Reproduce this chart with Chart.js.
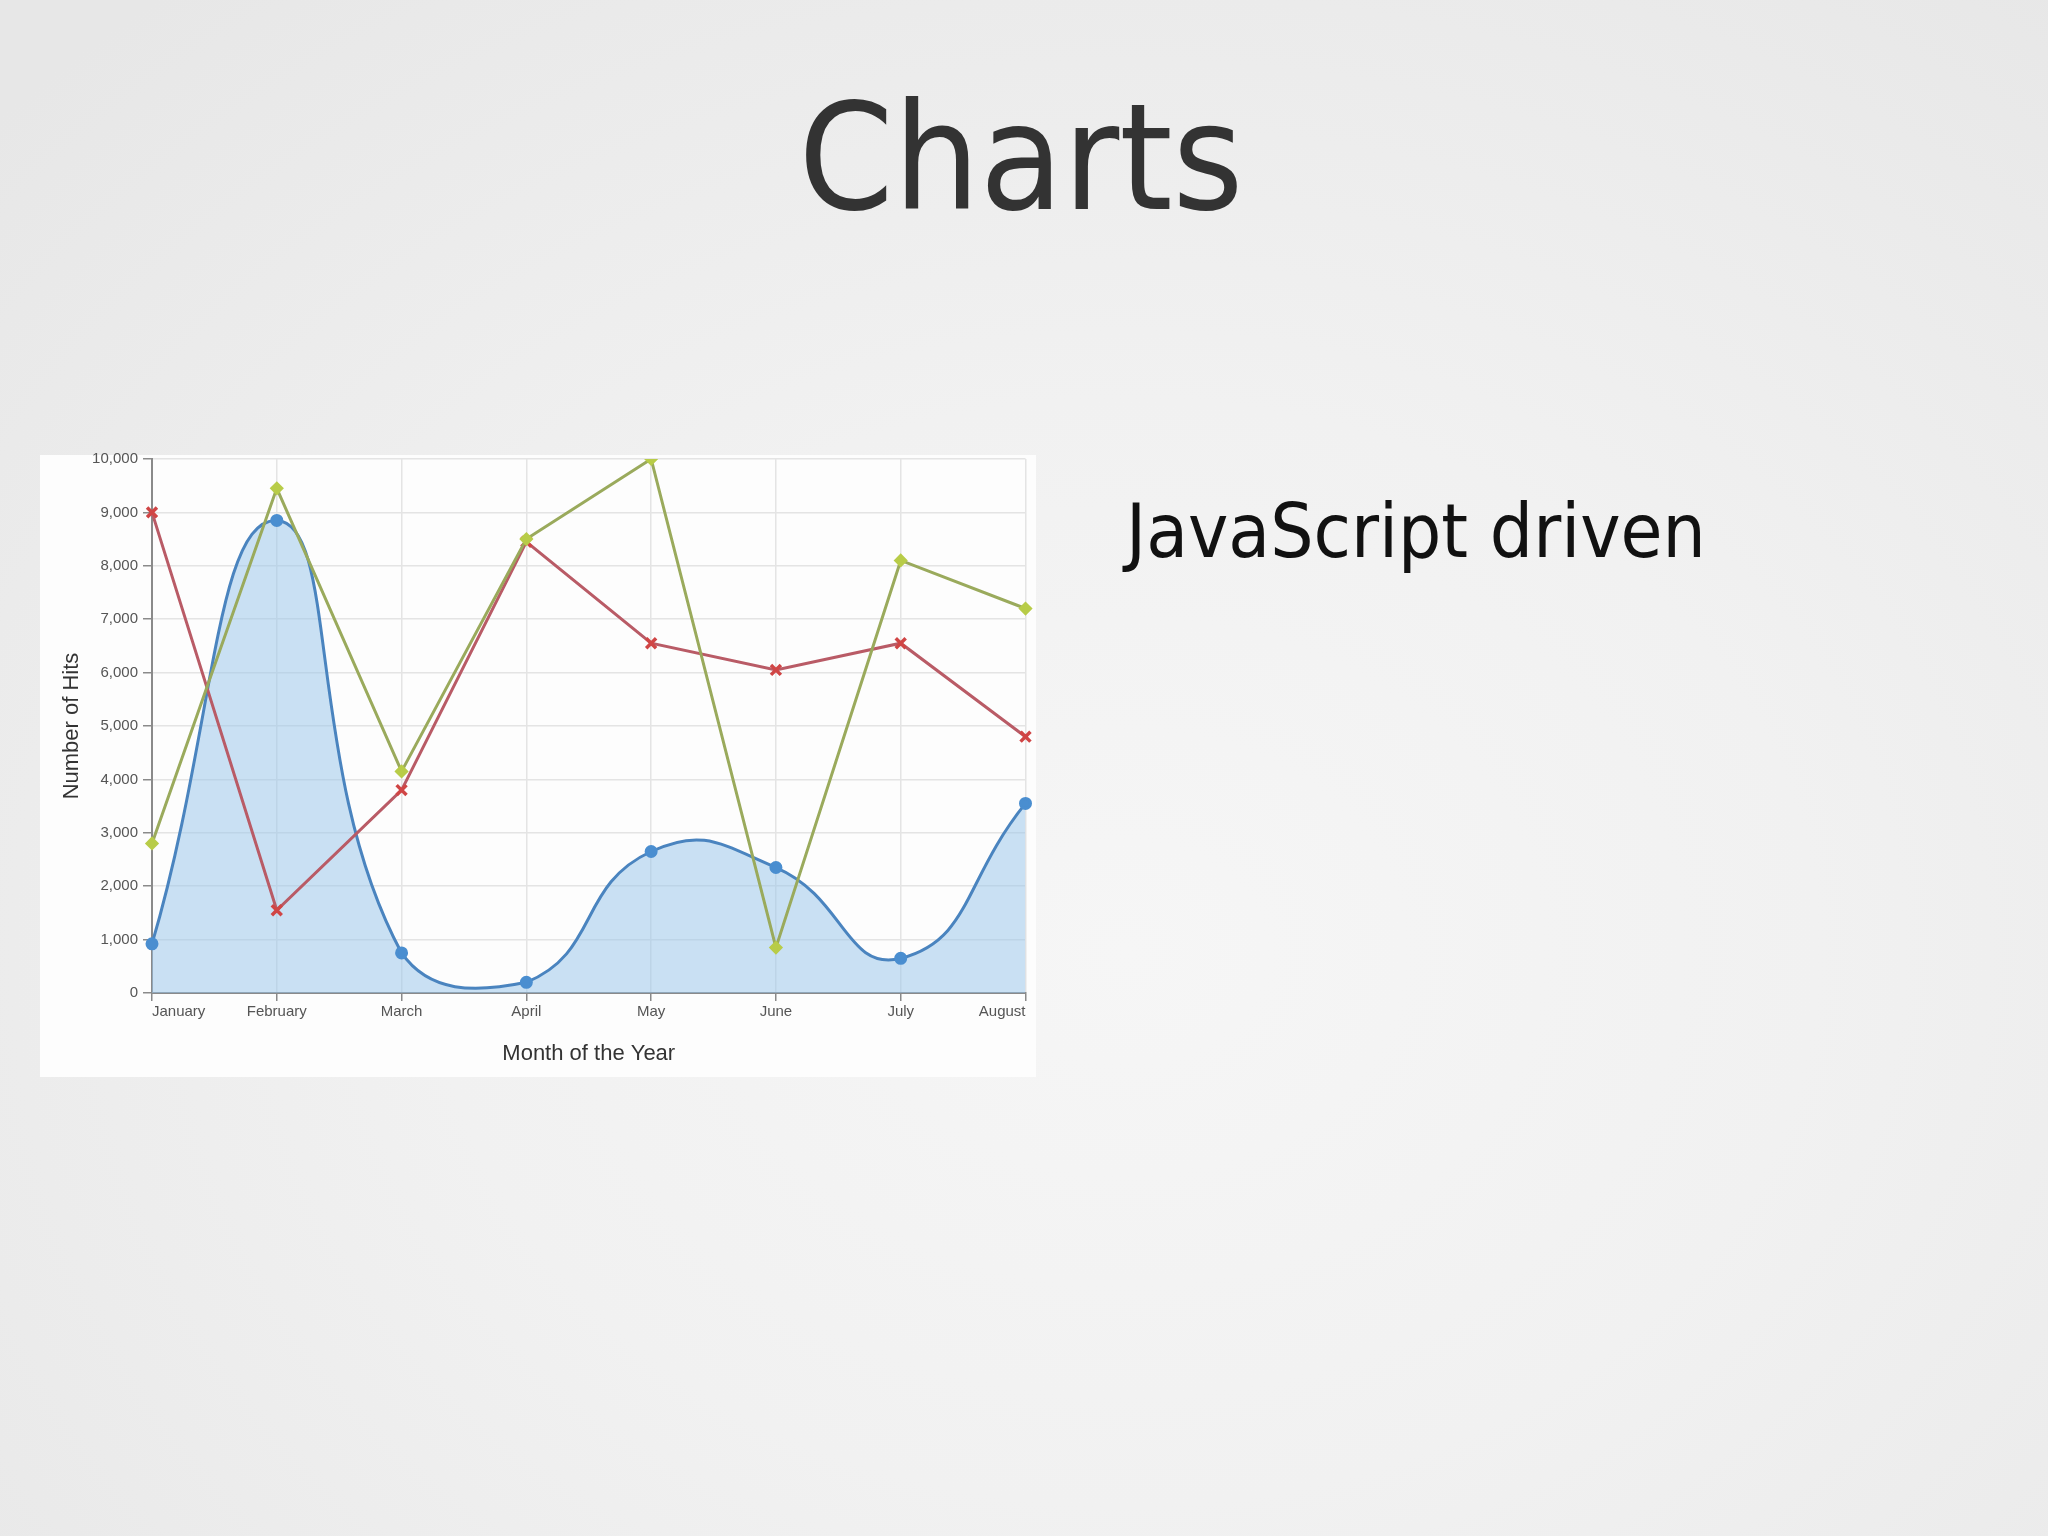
<!DOCTYPE html>
<html>
<head>
<meta charset="utf-8">
<script src="https://cdn.jsdelivr.net/npm/chart.js@4.4.1/dist/chart.umd.min.js"></script>
<style>
  html, body { margin: 0; padding: 0; }
  body {
    width: 2048px; height: 1536px; position: relative; overflow: hidden;
    background: radial-gradient(ellipse 75% 80% at 55% 62%, #f6f6f6 0%, #f1f1f1 45%, #e7e7e7 100%);
  }
  #title {
    position: absolute; left: 1021px; top: 84px;
    font-family: "DejaVu Sans", sans-serif; font-size: 148px; line-height: 1;
    color: #333333; white-space: nowrap;
    transform: translateX(-50%) scaleX(0.92);
  }
  #bullet {
    position: absolute; left: 1126px; top: 494px;
    font-family: "DejaVu Sans", sans-serif; font-size: 75px; line-height: 1;
    color: #111111; white-space: nowrap;
    transform-origin: 0 0; transform: scaleX(0.91);
  }
  #box { position: absolute; left: 40px; top: 455px; width: 996px; height: 622px; background: #fdfdfd; }
  #c { position: absolute; left: 40px; top: 445px; }
</style>
</head>
<body>
<div id="title">Charts</div>
<div id="bullet">JavaScript driven</div>
<div id="box"></div>
<canvas id="c" width="996" height="632"></canvas>
<script>
const months = ['January', 'February', 'March', 'April', 'May', 'June', 'July', 'August'];
const seriesBlue  = [920, 8850, 750, 200, 2650, 2350, 650, 3550];
const seriesRed   = [9000, 1550, 3800, 8450, 6550, 6050, 6550, 4800];
const seriesGreen = [2800, 9450, 4150, 8500, 10000, 850, 8100, 7200];
const yTicks = [0, 1000, 2000, 3000, 4000, 5000, 6000, 7000, 8000, 9000, 10000];

const tickFont = { family: '"Liberation Sans", Arial, sans-serif', size: 15 };
const titleFont = { family: '"Liberation Sans", Arial, sans-serif', size: 22 };

new Chart(document.getElementById('c'), {
  type: 'line',
  data: {
    labels: months,
    datasets: [
      {
        label: 'Series 1',
        data: seriesBlue,
        borderColor: '#4a84bf',
        backgroundColor: 'rgba(150,195,233,0.5)',
        fill: 'origin',
        tension: 0.5,
        borderWidth: 3,
        pointStyle: 'circle',
        pointRadius: 5,
        pointBackgroundColor: '#4a8ed0',
        pointBorderColor: '#4a8ed0',
        order: 3
      },
      {
        label: 'Series 2',
        data: seriesRed,
        borderColor: '#b95b66',
        backgroundColor: '#d04545',
        fill: false,
        tension: 0,
        borderWidth: 3,
        pointStyle: 'crossRot',
        pointRadius: 7,
        pointBorderWidth: 3.5,
        pointBorderColor: '#d04545',
        order: 2
      },
      {
        label: 'Series 3',
        data: seriesGreen,
        borderColor: '#9aaa5c',
        backgroundColor: '#b8cc48',
        fill: false,
        tension: 0,
        borderWidth: 3,
        pointStyle: 'rectRot',
        pointRadius: 5,
        pointBackgroundColor: '#b8cc48',
        pointBorderColor: '#b8cc48',
        order: 1
      }
    ]
  },
  options: {
    responsive: false,
    devicePixelRatio: 1,
    animation: false,
    layout: { padding: { top: 12, right: 2, bottom: 0, left: 0 } },
    plugins: { legend: { display: false }, tooltip: { enabled: false } },
    scales: {
      x: {
        type: 'category',
        offset: false,
        grid: { color: '#e4e4e4', lineWidth: 1.5, tickColor: '#8a8a8a', tickLength: 8, offset: false },
        border: { color: '#8a8a8a', width: 2 },
        ticks: { font: tickFont, color: '#555', padding: 2, align: 'inner', maxRotation: 0, autoSkip: false },
        title: { display: true, text: 'Month of the Year', font: titleFont, color: '#333', padding: { top: 0, bottom: 10 } },
        afterFit: (s) => { s.height = 84; }
      },
      y: {
        min: 0, max: 10000,
        afterBuildTicks: (s) => { s.ticks = yTicks.map(v => ({ value: v })); },
        grid: { color: '#e4e4e4', lineWidth: 1.5, tickColor: '#8a8a8a', tickLength: 9 },
        border: { color: '#8a8a8a', width: 2 },
        ticks: { font: tickFont, color: '#555', padding: 5, callback: (v) => Number(v).toLocaleString('en-US') },
        title: { display: true, text: 'Number of Hits', font: titleFont, color: '#333', padding: { top: 19, bottom: 0 } },
        afterFit: (s) => { s.width = 112; }
      }
    }
  }
});
</script>
</body>
</html>
